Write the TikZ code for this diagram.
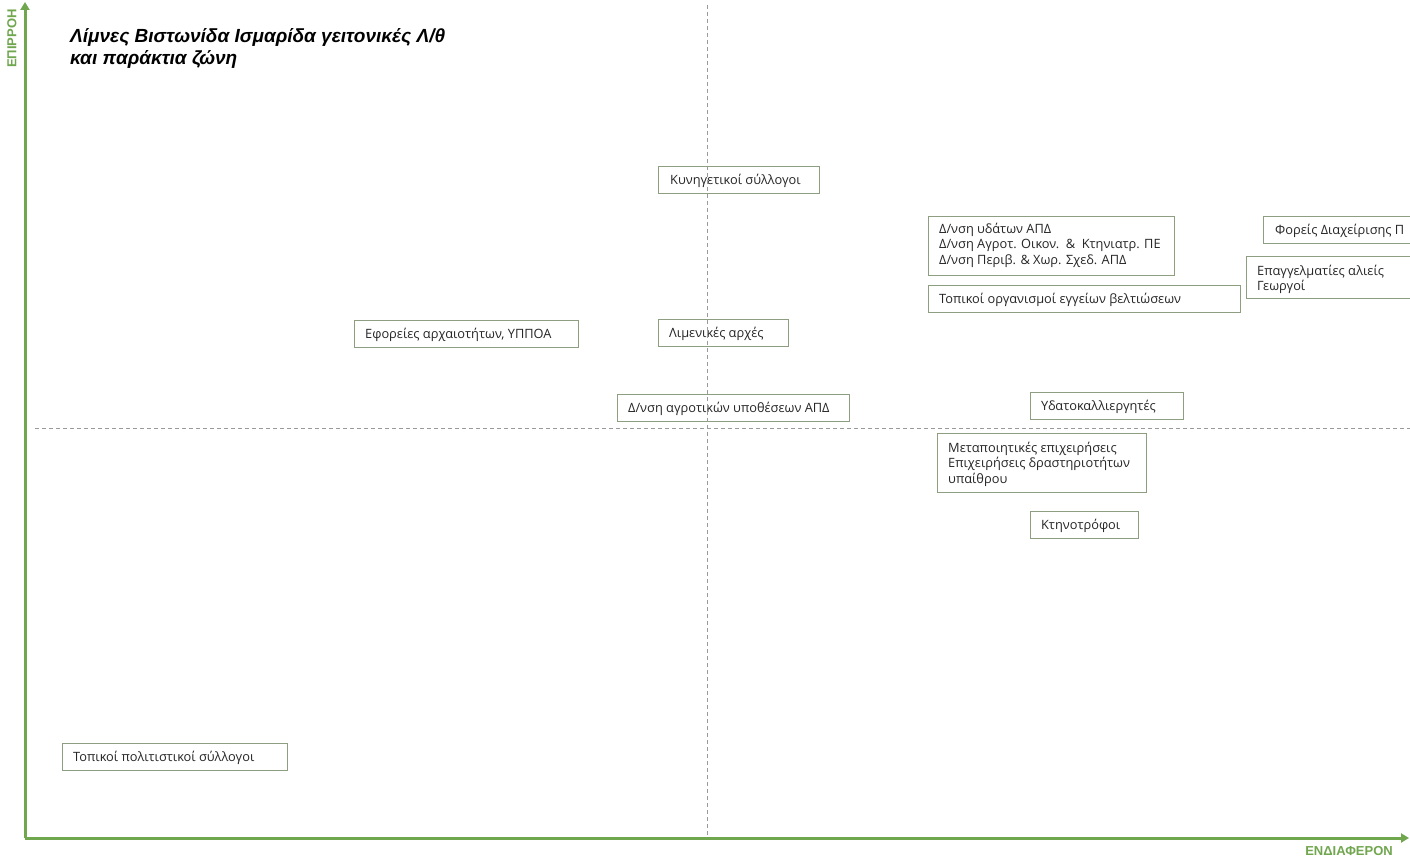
\documentclass[tikz,border=0pt]{standalone}
\usepackage{fontspec}
\setmainfont{Open Sans}
\newfontfamily\titlefont{Liberation Sans}
\usetikzlibrary{arrows.meta}
\definecolor{axisgreen}{HTML}{70A64E}
\definecolor{boxborder}{HTML}{8E9E80}
\definecolor{dashgrey}{HTML}{9A9A9A}
\begin{document}
\begin{tikzpicture}[x=1pt,y=-1pt,
  stake/.style={draw=boxborder, line width=0.9pt, fill=white, anchor=north west,
    inner sep=0pt},
  staketext/.style={anchor=west, inner sep=0pt, align=left,
    font=\fontsize{12.8}{15.5}\selectfont, text=black!85},
  oneline/.style={staketext, anchor=base west},
  axisline/.style={draw=axisgreen, line width=3pt},
  guide/.style={draw=dashgrey, line width=0.8pt, dash pattern=on 4pt off 3pt},
  axlabel/.style={text=axisgreen, font=\titlefont\bfseries\fontsize{13}{15}\selectfont}]
\useasboundingbox (0,0) rectangle (1410,861);
\clip (0,0) rectangle (1410,861);
\fill[white] (0,0) rectangle (1410,861);
% dashed guides
\coordinate (vtop) at (707,5);
\coordinate (vbot) at (707,838);
\coordinate (hl) at (35,428);
\coordinate (hr) at (1410,428);
\draw[guide] (hl) -- (hr);
% axes
\coordinate (origin) at (25,838);
\coordinate (ytip) at (25,2);
\coordinate (xtip) at (1409,838);
\draw[axisline, -{Triangle[length=8pt,width=9pt]}] (origin) -- (ytip);
\draw[axisline, -{Triangle[length=8pt,width=9pt]}] (origin) -- (xtip);
\node[axlabel, rotate=90, anchor=east, inner sep=0pt] (ylab) at (12,9) {ΕΠΙΡΡΟΗ};
\node[axlabel, anchor=east, inner sep=0pt] (xlab) at (1393,851) {ΕΝΔΙΑΦΕΡΟΝ};
% title
\node[anchor=north west, align=left, inner sep=0pt,
  font=\titlefont\bfseries\itshape\fontsize{19}{22}\selectfont] (title) at (70,28)
  {Λίμνες Βιστωνίδα Ισμαρίδα γειτονικές Λ/θ\\και παράκτια ζώνη};
% stakeholder boxes
\node[stake, minimum width=161pt, minimum height=27pt] (kyn) at (658,166) {};
\node[oneline] (kynt) at ([xshift=12pt,yshift=-5pt]kyn.west) {Κυνηγετικοί σύλλογοι};
\node[stake, minimum width=246pt, minimum height=59pt] (dns) at (928,216) {};
\node[staketext] (dnst) at ([xshift=11pt,yshift=1pt]dns.west) {Δ/νση υδάτων ΑΠΔ\\Δ/νση Αγροτ. Οικον.\ \ \& \ Κτηνιατρ. ΠΕ\\Δ/νση Περιβ. \& Χωρ. Σχεδ. ΑΠΔ};
\node[stake, minimum width=190pt, minimum height=27pt] (fdp) at (1263,216) {};
\node[oneline] (fdpt) at ([xshift=12pt,yshift=-5pt]fdp.west) {Φορείς Διαχείρισης Π};
\node[stake, minimum width=200pt, minimum height=42pt] (epa) at (1246,256) {};
\node[staketext] (epat) at ([xshift=11pt,yshift=-2pt]epa.west) {Επαγγελματίες αλιείς\\Γεωργοί};
\node[stake, minimum width=312pt, minimum height=27pt] (toe) at (928,285) {};
\node[oneline] (toet) at ([xshift=11pt,yshift=-5pt]toe.west) {Τοπικοί οργανισμοί εγγείων βελτιώσεων};
\node[stake, minimum width=224pt, minimum height=27pt] (efo) at (354,320) {};
\node[oneline] (efot) at ([xshift=11pt,yshift=-5pt]efo.west) {Εφορείες αρχαιοτήτων, ΥΠΠΟΑ};
\node[stake, minimum width=130pt, minimum height=27pt] (lim) at (658,319) {};
\node[oneline] (limt) at ([xshift=11pt,yshift=-5pt]lim.west) {Λιμενικές αρχές};
\node[stake, minimum width=232pt, minimum height=27pt] (dau) at (617,394) {};
\node[oneline] (daut) at ([xshift=11pt,yshift=-5pt]dau.west) {Δ/νση αγροτικών υποθέσεων ΑΠΔ};
\node[stake, minimum width=153pt, minimum height=27pt] (ydk) at (1030,392) {};
\node[oneline] (ydkt) at ([xshift=11pt,yshift=-5pt]ydk.west) {Υδατοκαλλιεργητές};
\node[stake, minimum width=209pt, minimum height=59pt] (met) at (937,433) {};
\node[staketext] (mett) at ([xshift=11pt,yshift=-1pt]met.west) {Μεταποιητικές επιχειρήσεις\\Επιχειρήσεις δραστηριοτήτων\\υπαίθρου};
\node[stake, minimum width=108pt, minimum height=27pt] (ktn) at (1030,511) {};
\node[oneline] (ktnt) at ([xshift=11pt,yshift=-5pt]ktn.west) {Κτηνοτρόφοι};
\node[stake, minimum width=225pt, minimum height=27pt] (tps) at (62,743) {};
\node[oneline] (tpst) at ([xshift=11pt,yshift=-5pt]tps.west) {Τοπικοί πολιτιστικοί σύλλογοι};
\draw[guide] (vtop) -- (vbot);
\end{tikzpicture}
\end{document}
